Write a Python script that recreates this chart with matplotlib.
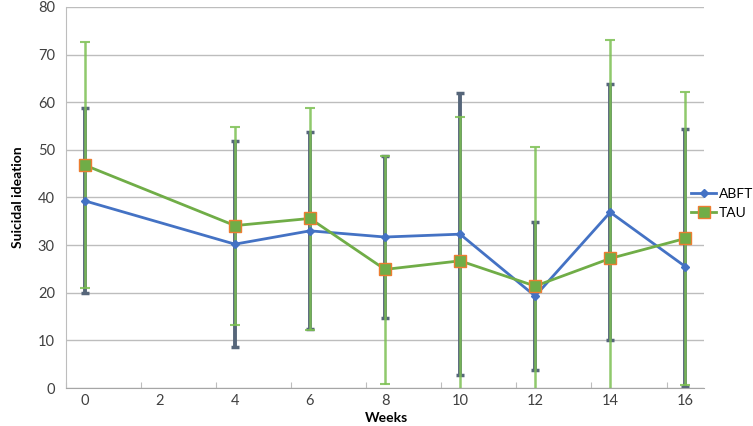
import numpy as np
import matplotlib
matplotlib.use("Agg")
import matplotlib.pyplot as plt

plt.rcParams['font.family'] = ['Lato', 'DejaVu Sans']

weeks = [0, 4, 6, 8, 10, 12, 14, 16]
abft = [39.3, 30.2, 33.0, 31.7, 32.3, 19.3, 36.9, 25.5]
tau = [46.8, 34.1, 35.6, 24.9, 26.7, 21.4, 27.2, 31.4]
abft_hi = [58.8, 51.8, 53.7, 48.8, 61.9, 34.8, 63.9, 54.3]
abft_lo = [19.9, 8.6, 12.3, 14.7, 2.7, 3.7, 10.1, 0.3]
tau_hi = [72.6, 54.9, 58.8, 48.8, 57.0, 50.7, 73.0, 62.1]
tau_lo = [20.9, 13.3, 12.1, 0.8, -8.0, -8.0, -18.0, 0.6]

abft = np.array(abft)
tau = np.array(tau)
abft_err = [abft - np.array(abft_lo), np.array(abft_hi) - abft]
tau_err = [tau - np.array(tau_lo), np.array(tau_hi) - tau]

fig = plt.figure(figsize=(7.53, 4.26), dpi=100)
ax = fig.add_axes([0.0876, 0.0892, 0.8474, 0.8944])

ax.errorbar(weeks, abft, yerr=abft_err, fmt='none', ecolor='#56667a', elinewidth=2.8,
            capsize=3, capthick=2.5, zorder=2)
ax.errorbar(weeks, tau, yerr=tau_err, fmt='none', ecolor='#7cc052', elinewidth=1.8,
            capsize=3.5, capthick=1.5, zorder=3, alpha=0.85)

ax.plot(weeks, abft, color='#4472C4', lw=2, marker='D', ms=4.5, label='ABFT', zorder=4)
ax.plot(weeks, tau, color='#70AD47', lw=2, marker='s', ms=9, mfc='#70AD47',
        mec='#ED7D31', mew=1, label='TAU', zorder=5)

ax.set_xlim(-0.5, 16.5)
ax.set_ylim(0, 80)
ax.set_yticks(range(0, 81, 10))
ax.yaxis.grid(True, color='#bdbdbd', lw=1)
ax.set_axisbelow(True)

ax.set_xticks(np.arange(-0.5, 16, 2))
ax.set_xticklabels([])
ax.tick_params(axis='x', direction='in', length=4, color='#bdbdbd')
for w in range(0, 17, 2):
    ax.text(w, -1.3, str(w), ha='center', va='top', fontsize=10.5, color='#404040')
ax.tick_params(axis='y', length=0, labelsize=10.5, labelcolor='#404040', pad=8)

for s in ['top', 'right']:
    ax.spines[s].set_visible(False)
ax.spines['left'].set_color('#bdbdbd')
ax.spines['bottom'].set_color('#a6a6a6')

ax.set_ylabel('Suicidal ideation', fontsize=10, fontweight='bold', labelpad=10)
fig.text(0.513, 0.004, 'Weeks', ha='center', va='bottom', fontsize=10, fontweight='bold')

fig.legend(loc='center left', bbox_to_anchor=(0.918, 0.523), frameon=False, fontsize=10,
           handlelength=1.8, handletextpad=0.2, labelspacing=0.5, borderpad=0,
           borderaxespad=0)

fig.savefig('out.png', dpi=100)
